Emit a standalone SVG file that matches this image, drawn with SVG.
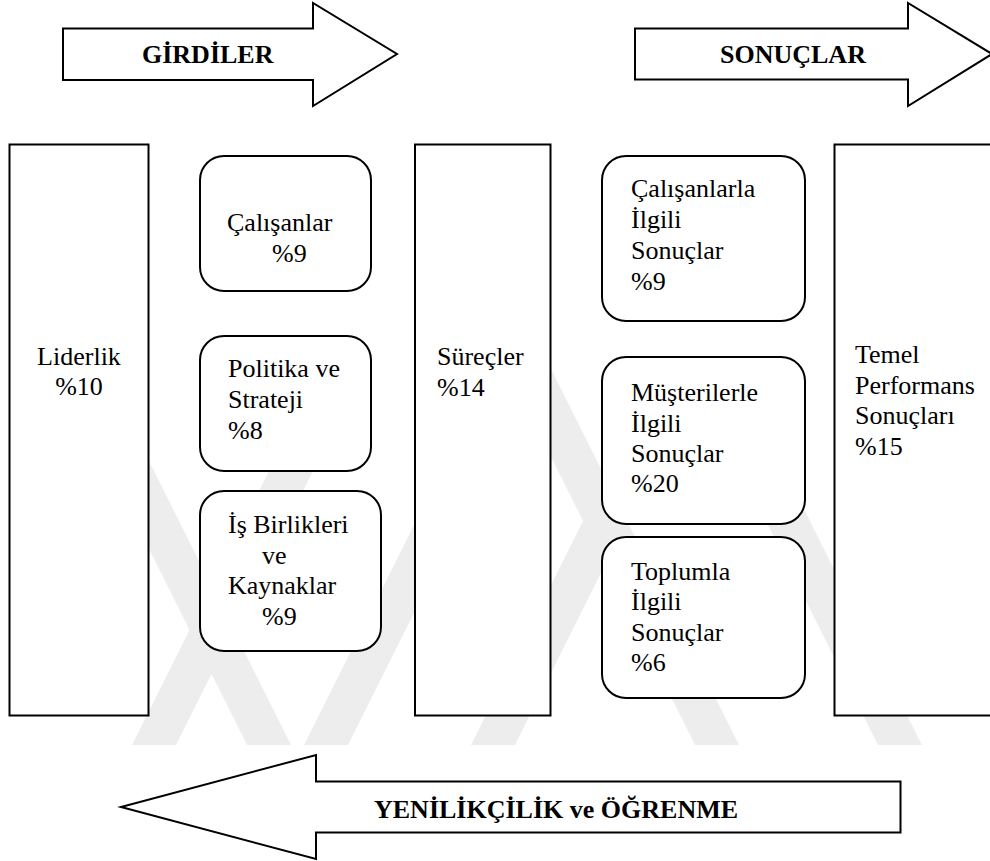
<svg xmlns="http://www.w3.org/2000/svg" width="990" height="861" viewBox="0 0 990 861">
  <style>
    .shape { fill: #ffffff; stroke: #000000; stroke-width: 2; }
    text { font-family: 'Liberation Serif', Tinos, 'DejaVu Serif', serif; font-size: 26px; fill: #000000; }
    .head { font-weight: bold; }
    .wm { fill: #ededed; }
  </style>
  <defs>
    <clipPath id="wmClip">
      <rect x="0" y="365" width="990" height="380"/>
    </clipPath>
  </defs>
  <rect width="990" height="861" fill="#ffffff"/>

  <!-- faint background stripes -->
  <g id="background-stripes" clip-path="url(#wmClip)">
    <polygon class="wm" points="57,365 101,365 291,745 247,745"/>
    <polygon class="wm" points="505,365 549,365 739,745 695,745"/>
    <polygon class="wm" points="688,365 732,365 922,745 878,745"/>
    <polygon class="wm" points="322,365 366,365 176,745 132,745"/>
    <polygon class="wm" points="494,365 538,365 348,745 304,745"/>
    <polygon class="wm" points="661,365 705,365 515,745 471,745"/>
  </g>

  <!-- connectors: the three flow arrows -->
  <g id="connectors">
    <g id="arrow-girdiler">
      <polygon class="shape" points="63,28.5 313,28.5 313,3 397,54 313,106 313,80 63,80"/>
      <text class="head" x="142" y="63">GİRDİLER</text>
    </g>
    <g id="arrow-sonuclar">
      <polygon class="shape" points="635,28.5 908,28.5 908,3 992,54 908,106 908,79.5 635,79.5"/>
      <text class="head" x="720" y="63">SONUÇLAR</text>
    </g>
    <g id="arrow-yenilikcilik">
      <polygon class="shape" points="900.5,781.5 316,781.5 316,755 121,807 316,859 316,832.5 900.5,832.5"/>
      <text class="head" x="374" y="818">YENİLİKÇİLİK ve ÖĞRENME</text>
    </g>
  </g>

  <!-- enabler columns -->
  <g id="node-liderlik">
    <rect class="shape" x="9.5" y="144.5" width="139" height="571"/>
    <text x="79" y="365" text-anchor="middle">Liderlik</text>
    <text x="79" y="395" text-anchor="middle">%10</text>
  </g>

  <g id="node-calisanlar">
    <rect class="shape" x="200" y="156" width="171" height="135" rx="24" ry="24"/>
    <text x="227" y="231">Çalışanlar</text>
    <text x="272" y="262">%9</text>
  </g>

  <g id="node-politika">
    <rect class="shape" x="200" y="336" width="171" height="135" rx="24" ry="24"/>
    <text x="228" y="377">Politika ve</text>
    <text x="228" y="408">Strateji</text>
    <text x="228" y="439">%8</text>
  </g>

  <g id="node-isbirlikleri">
    <rect class="shape" x="200" y="491" width="181" height="160" rx="24" ry="24"/>
    <text x="228" y="533">İş Birlikleri</text>
    <text x="262" y="564">ve</text>
    <text x="228" y="594">Kaynaklar</text>
    <text x="262" y="625">%9</text>
  </g>

  <g id="node-surecler">
    <rect class="shape" x="415" y="144.5" width="135.5" height="571"/>
    <text x="437" y="365">Süreçler</text>
    <text x="437" y="396">%14</text>
  </g>

  <!-- result boxes -->
  <g id="node-calisan-sonuclari">
    <rect class="shape" x="602" y="156" width="203" height="165" rx="24" ry="24"/>
    <text x="631" y="197">Çalışanlarla</text>
    <text x="631" y="228">İlgili</text>
    <text x="631" y="259">Sonuçlar</text>
    <text x="631" y="290">%9</text>
  </g>

  <g id="node-musteri-sonuclari">
    <rect class="shape" x="602" y="357" width="203" height="167" rx="24" ry="24"/>
    <text x="631" y="401">Müşterilerle</text>
    <text x="631" y="432">İlgili</text>
    <text x="631" y="462">Sonuçlar</text>
    <text x="631" y="492">%20</text>
  </g>

  <g id="node-toplum-sonuclari">
    <rect class="shape" x="602" y="537" width="203" height="161" rx="24" ry="24"/>
    <text x="631" y="580">Toplumla</text>
    <text x="631" y="610">İlgili</text>
    <text x="631" y="641">Sonuçlar</text>
    <text x="631" y="671">%6</text>
  </g>

  <g id="node-temel-performans">
    <rect class="shape" x="834.5" y="144.5" width="170" height="571"/>
    <text x="855" y="363">Temel</text>
    <text x="855" y="394">Performans</text>
    <text x="855" y="424">Sonuçları</text>
    <text x="855" y="455">%15</text>
  </g>
</svg>
